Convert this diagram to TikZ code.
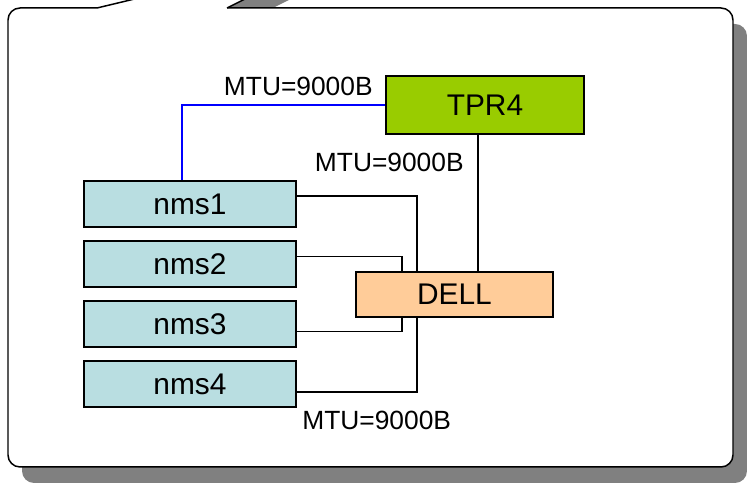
\documentclass[tikz,border=0pt]{standalone}
\usepackage{fontspec}
\setmainfont{Liberation Sans}
\usetikzlibrary{positioning}
\definecolor{tprgreen}{RGB}{153,204,0}
\definecolor{nmsblue}{RGB}{185,222,225}
\definecolor{dellorange}{RGB}{255,204,153}
\definecolor{shadowgray}{RGB}{128,128,128}
\begin{document}
\begin{tikzpicture}[
		box/.style = {draw, line width = 1.1pt, minimum height = 0.92cm, minimum width = 4.24cm, font = \fontsize{17}{20}\selectfont},
		link/.style = {line width = 0.8pt},
		mtu/.style = {font = \fontsize{15}{17}\selectfont, inner sep = 0pt}]
		\useasboundingbox (0cm, 0cm) rectangle (14.94cm, -9.74cm);
		\clip (0cm, 0cm) rectangle (14.94cm, -9.74cm);

		% callout shadow
		\fill [shadowgray, rounded corners = 0.24cm] (0.44cm, -0.48cm) rectangle (14.94cm, -9.66cm);
		\fill [shadowgray] (2.22cm, -0.48cm) -- (7.22cm, 0.72cm) -- (4.82cm, -0.48cm) -- cycle;

		% callout
		\draw [line width = 0.85pt, fill = white, rounded corners = 0.24cm] (0.16cm, -0.16cm) rectangle (14.66cm, -9.34cm);
		\fill [white] (1.94cm, -0.16cm) -- (6.94cm, 1.04cm) -- (4.54cm, -0.16cm) -- (4.54cm, -0.2cm) -- (1.94cm, -0.2cm) -- cycle;
		\draw [line width = 0.85pt] (1.94cm, -0.16cm) -- (6.94cm, 1.04cm) -- (4.54cm, -0.16cm);

		% switch and router
		\node (tpr) at (9.70cm, -2.10cm) [box, fill = tprgreen, minimum width = 3.96cm, minimum height = 1.16cm] {TPR4};
		\node (dell) at (9.09cm, -5.89cm) [box, fill = dellorange, minimum width = 3.94cm, minimum height = 0.90cm] {DELL};

		% hosts
		\node (nms1) at (3.80cm, -4.08cm) [box, fill = nmsblue] {nms1};
		\node (nms2) at (3.80cm, -5.28cm) [box, fill = nmsblue] {nms2};
		\node (nms3) at (3.80cm, -6.48cm) [box, fill = nmsblue] {nms3};
		\node (nms4) at (3.80cm, -7.68cm) [box, fill = nmsblue] {nms4};

		% links
		\draw [link] ([yshift = 0.16cm]nms1.east) -| ([xshift = -0.75cm]dell.north);
		\draw [link] ([yshift = 0.15cm]nms2.east) -| ([xshift = -1.05cm]dell.north);
		\draw [link] ([yshift = -0.15cm]nms3.east) -| ([xshift = -1.05cm]dell.south);
		\draw [link] ([yshift = -0.16cm]nms4.east) -| ([xshift = -0.75cm]dell.south);
		\draw [link] ([xshift = -0.14cm]tpr.south) -- ([xshift = -0.14cm]tpr.south |- dell.north);
		\draw [link, blue] (tpr.west) -| ([xshift = -0.16cm]nms1.north);

		% mtu labels
		\node [mtu, anchor = east] (mtutop) at (7.46cm, -1.72cm) {MTU=9000B};
		\node [mtu, anchor = east] (mtumid) at (9.28cm, -3.25cm) {MTU=9000B};
		\node [mtu, anchor = west] (mtulow) at (6.04cm, -8.40cm) {MTU=9000B};
	\end{tikzpicture}
\end{document}
